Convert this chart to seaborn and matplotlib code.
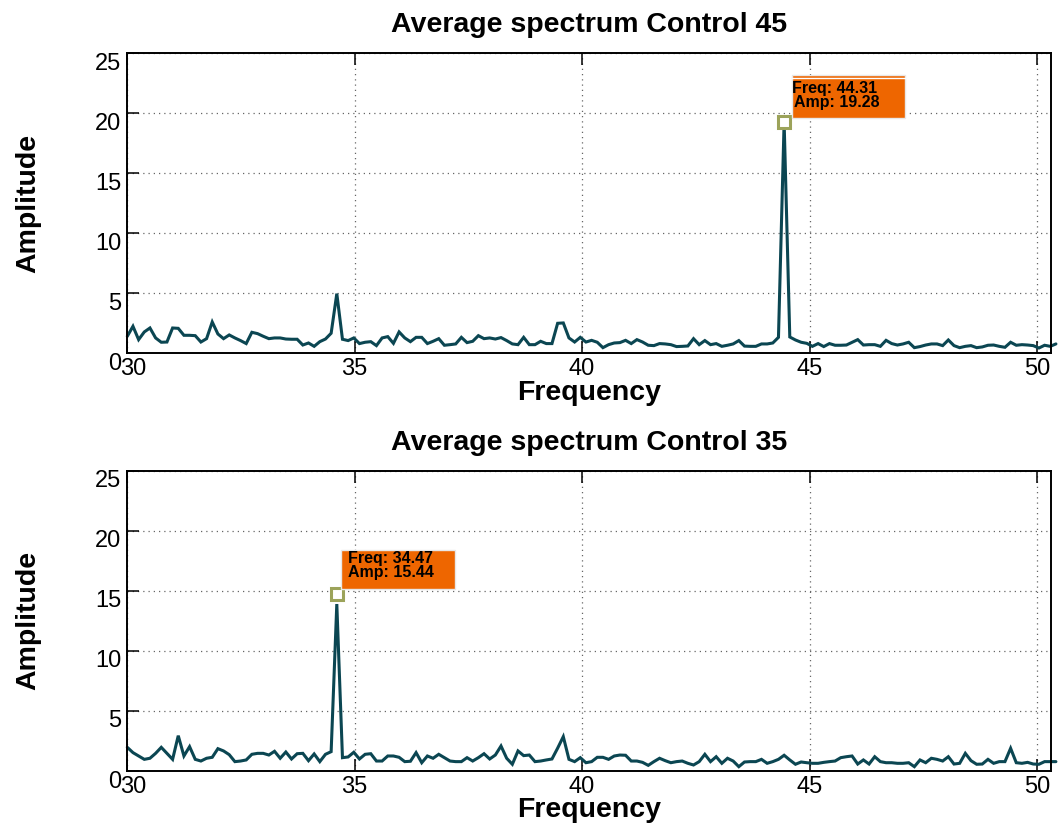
import numpy as np
import pandas as pd
import matplotlib
matplotlib.use("Agg")
import matplotlib.pyplot as plt
from matplotlib.patches import Rectangle
from matplotlib.transforms import ScaledTranslation
import seaborn as sns

# ---------------- data ----------------
FREQ_START = 30.0
FREQ_STEP = 0.1245

amp_control45 = [
    1.42, 2.25, 1.14, 1.78, 2.11, 1.28, 0.92, 0.94, 2.11, 2.08,
    1.50, 1.50, 1.47, 0.94, 1.22, 2.61, 1.61, 1.22, 1.53, 1.28,
    1.06, 0.81, 1.75, 1.64, 1.42, 1.22, 1.28, 1.28, 1.19, 1.17,
    1.17, 0.69, 0.86, 0.58, 0.97, 1.19, 1.67, 4.97, 1.17, 1.06,
    1.28, 0.81, 0.92, 0.97, 0.64, 1.28, 1.39, 0.83, 1.78, 1.28,
    0.97, 1.33, 1.33, 0.81, 1.00, 1.22, 0.67, 0.72, 0.78, 1.33,
    0.89, 1.00, 1.47, 1.22, 1.28, 1.19, 1.31, 1.06, 0.78, 0.72,
    1.33, 0.72, 0.72, 1.00, 0.81, 0.81, 2.50, 2.53, 1.28, 0.94,
    1.33, 0.94, 1.08, 0.92, 0.47, 0.72, 0.86, 0.89, 1.08, 0.81,
    1.14, 0.94, 0.67, 0.64, 0.81, 0.78, 0.72, 0.56, 0.58, 0.61,
    1.22, 0.72, 1.06, 0.72, 0.81, 0.58, 0.67, 0.78, 1.06, 0.60,
    0.58, 0.58, 0.78, 0.78, 0.86, 1.33, 19.28, 1.36, 1.11, 0.92,
    0.83, 0.58, 0.81, 0.56, 0.81, 0.67, 0.67, 0.69, 0.92, 1.14,
    0.69, 0.72, 0.72, 0.58, 1.08, 0.81, 0.69, 0.78, 0.92, 0.47,
    0.56, 0.69, 0.78, 0.78, 0.64, 1.11, 0.64, 0.47, 0.58, 0.64,
    0.47, 0.53, 0.67, 0.69, 0.58, 0.50, 0.92, 0.67, 0.72, 0.69,
    0.64, 0.44, 0.67, 0.58, 0.78,
]

amp_control35 = [
    1.97, 1.53, 1.25, 0.97, 1.06, 1.47, 1.97, 1.47, 0.97, 2.94,
    1.25, 2.03, 0.97, 0.83, 1.06, 1.14, 1.86, 1.67, 1.36, 0.78,
    0.83, 0.92, 1.39, 1.47, 1.47, 1.33, 1.64, 1.06, 1.58, 1.00,
    1.44, 1.47, 0.86, 1.42, 0.78, 1.39, 1.61, 13.90, 1.11, 1.17,
    1.56, 1.00, 1.39, 1.44, 0.83, 0.83, 1.25, 1.25, 1.14, 0.78,
    0.81, 1.53, 0.69, 1.25, 1.06, 1.39, 1.11, 0.83, 0.78, 0.78,
    1.11, 0.83, 1.11, 1.44, 1.00, 1.33, 2.08, 1.06, 0.56, 1.67,
    1.28, 1.33, 0.78, 0.83, 0.92, 1.00, 1.90, 2.86, 0.97, 0.78,
    1.11, 0.69, 0.78, 1.14, 1.14, 0.97, 1.25, 1.33, 1.31, 0.83,
    0.83, 0.72, 0.47, 0.78, 1.06, 0.86, 0.69, 0.78, 0.83, 0.64,
    0.50, 0.78, 1.39, 0.78, 1.19, 0.64, 1.06, 0.83, 0.36, 0.75,
    0.78, 0.78, 0.97, 0.64, 0.78, 0.97, 1.31, 0.92, 0.56, 0.75,
    0.69, 0.64, 0.64, 0.72, 0.78, 0.83, 1.11, 1.19, 1.25, 0.58,
    0.92, 0.58, 1.19, 0.78, 0.69, 0.69, 0.64, 0.64, 0.69, 0.36,
    0.92, 0.69, 1.06, 0.97, 0.83, 1.19, 0.58, 0.64, 1.47, 0.86,
    0.56, 0.58, 0.97, 0.64, 0.78, 0.78, 1.89, 0.69, 0.64, 0.72,
    0.58, 0.56, 0.78, 0.78, 0.78,
]

titles = ["Average spectrum Control 45", "Average spectrum Control 35"]
tip_freq_text = ["Freq: 44.31", "Freq: 34.47"]
tip_amp_text = ["Amp: 19.28", "Amp: 15.44"]
peak_index = [116, 37]
marker_amp = [19.28, 14.7]
x_ticks = [30, 35, 40, 45, 50]
y_ticks = [0, 5, 10, 15, 20, 25]

# ---------------- style ----------------
sns.set_theme(style="white")
plt.rcParams["font.family"] = ["Liberation Sans", "DejaVu Sans"]
plt.rcParams["text.color"] = "black"
plt.rcParams["axes.labelcolor"] = "black"
plt.rcParams["xtick.color"] = "black"
plt.rcParams["ytick.color"] = "black"
plt.rcParams["axes.titlecolor"] = "black"

LINE_COLOR = "#0B4652"
TIP_COLOR = "#EE6600"
MARKER_EDGE = "#9CA35A"

fig = plt.figure(figsize=(10.58, 8.32), dpi=100)
W, H = 1058.0, 832.0
ax_left, ax_right = 127.3, 1051.0
panels_px = [(53.3, 353.3), (470.7, 771.0)]

# tip box geometry in data units
tip_geo = [
    (44.61, 47.10, 19.60, 23.19, 44.62, 44.66, 22.03, 20.92, 22.92),
    (34.69, 37.20, 15.15, 18.40, 34.85, 34.85, 17.65, 16.49, None),
]

for p, (amps, (top_px, bot_px)) in enumerate(zip([amp_control45, amp_control35], panels_px)):
    ax = fig.add_axes([ax_left / W, 1 - bot_px / H, (ax_right - ax_left) / W, (bot_px - top_px) / H])
    freqs = FREQ_START + FREQ_STEP * np.arange(len(amps))
    df = pd.DataFrame({"Frequency": freqs, "Amplitude": amps})
    sns.lineplot(data=df, x="Frequency", y="Amplitude", ax=ax, color=LINE_COLOR,
                 linewidth=2.2, estimator=None, sort=False)
    for ln in ax.lines:
        ln.set_clip_on(False)
        ln.set_solid_joinstyle("miter")

    ax.set_xlim(30, 50.31)
    ax.set_ylim(0, 25)
    ax.set_xticks(x_ticks)
    ax.set_yticks(y_ticks)
    ax.grid(True, linestyle=(0, (1, 3.2)), color="#666666", linewidth=0.9)
    for s in ax.spines.values():
        s.set_visible(True)
        s.set_color("black")
        s.set_linewidth(1.4)
    ax.tick_params(direction="in", length=8.6, width=1.1, top=True, right=False,
                   bottom=True, left=True, labelsize=17, colors="black", pad=4.5)
    ax.tick_params(axis="x", pad=3.5)

    for lab in ax.get_yticklabels():
        lab.set_transform(lab.get_transform() + ScaledTranslation(0, -8 / 100, fig.dpi_scale_trans))
    xl = ax.get_xticklabels()
    xl[0].set_transform(xl[0].get_transform() + ScaledTranslation(6 / 100, 0, fig.dpi_scale_trans))

    ax.set_xlabel("Frequency", fontsize=20.5, fontweight="bold", color="black")
    ax.set_ylabel("Amplitude", fontsize=20.5, fontweight="bold", color="black")
    ax.xaxis.set_label_coords(0.5, -0.088)
    ax.yaxis.set_label_coords(-0.093, 0.5)
    ax.set_title(titles[p], fontsize=20.5, fontweight="bold", pad=15, color="black")

    ax.plot([freqs[peak_index[p]]], [marker_amp[p]], marker="s", markersize=8.6,
            markerfacecolor="white", markeredgecolor=MARKER_EDGE, markeredgewidth=2.2,
            linestyle="none", zorder=6, clip_on=False)

    x0, x1, y0, y1, tx_f, tx_a, yl1, yl2, wl = tip_geo[p]
    ax.add_patch(Rectangle((x0, y0), x1 - x0, y1 - y0, facecolor=TIP_COLOR,
                           edgecolor="#E8E8E8", linewidth=1.0, zorder=7, clip_on=False))
    if wl is not None:
        ax.plot([x0, x1], [wl, wl], color="white", linewidth=1.0, zorder=8, clip_on=False)
    ax.text(tx_f, yl1, tip_freq_text[p], fontsize=11.5, fontweight="bold", color="black",
            ha="left", va="center", zorder=9)
    ax.text(tx_a, yl2, tip_amp_text[p], fontsize=11.5, fontweight="bold", color="black",
            ha="left", va="center", zorder=9)

fig.savefig("out.png", dpi=100)
